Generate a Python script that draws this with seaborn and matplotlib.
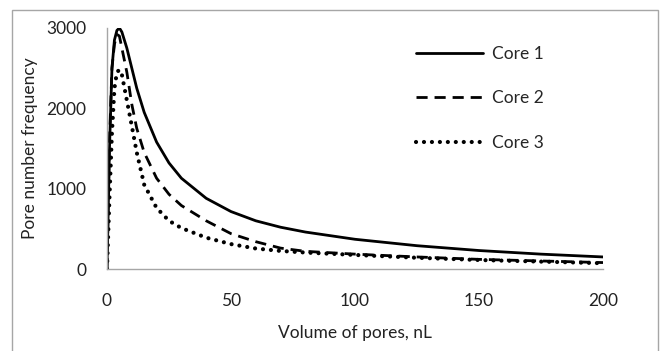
import matplotlib
matplotlib.use("Agg")
import matplotlib.pyplot as plt
import seaborn as sns
import pandas as pd
from matplotlib.patches import Rectangle

volume = [0, 1, 2, 3, 4, 5, 6, 8, 10, 12, 15, 20, 25, 30, 40, 50, 60, 70, 80, 100, 125, 150, 175, 200]
core1 = [0, 1500, 2500, 2850, 2970, 3000, 2950, 2750, 2500, 2250, 1950, 1580, 1320, 1130, 880, 715, 600, 520, 460, 370, 290, 230, 185, 150]
core2 = [0, 1600, 2500, 2800, 2920, 2900, 2750, 2450, 2050, 1750, 1450, 1130, 930, 790, 600, 440, 340, 260, 220, 185, 150, 120, 100, 80]
core3 = [0, 900, 1700, 2250, 2450, 2480, 2420, 2100, 1780, 1450, 1050, 760, 600, 510, 390, 310, 255, 225, 205, 175, 140, 112, 92, 72]
series_names = ["Core 1", "Core 2", "Core 3"]
x_ticks = [0, 50, 100, 150, 200]
y_ticks = [0, 1000, 2000, 3000]

rows = []
for name, vals in zip(series_names, [core1, core2, core3]):
    for v, f in zip(volume, vals):
        rows.append({"Volume": v, "Freq": f, "Core": name})
df = pd.DataFrame(rows)

sns.set_theme(style="white")
plt.rcParams['font.family'] = ['Lato', 'DejaVu Sans']

FS = 12.5
fig = plt.figure(figsize=(6.65, 3.51), dpi=100)
ax = fig.add_axes([107/665, 1-269/351, (603-107)/665, (269-28)/351])

sns.lineplot(data=df, x="Volume", y="Freq", style="Core", color="black",
             dashes={"Core 1": "", "Core 2": (4, 2.5), "Core 3": (0.01, 1.9)},
             linewidth=2.0, ax=ax, legend=True)
lines = ax.lines
lines[2].set_linewidth(3.0)
lines[2].set_dash_capstyle('round')

ax.set_xlim(0, 200)
ax.set_ylim(0, 3000)
ax.set_xticks(x_ticks)
ax.set_yticks(y_ticks)
ax.tick_params(axis='both', length=0, labelsize=FS, colors='#222222')
ax.tick_params(axis='x', pad=17)
ax.tick_params(axis='y', pad=15)
for s in ['top', 'right']:
    ax.spines[s].set_visible(False)
for s in ['left', 'bottom']:
    ax.spines[s].set_color('#a6a6a6')
    ax.spines[s].set_linewidth(1.0)
ax.set_xlabel("Volume of pores, nL", fontsize=FS, color='#222222', labelpad=12)
ax.set_ylabel("Pore number frequency", fontsize=FS, color='#222222', labelpad=6)

handles, labels = ax.get_legend_handles_labels()
for h in handles:
    h.set_color('black')
    h.set_linewidth(2.0)
handles[2].set_linewidth(3.0)
handles[2].set_dash_capstyle('round')
ax.legend(handles, labels, loc='upper left', bbox_to_anchor=(400/665, 1-30/351),
          bbox_transform=fig.transFigure, frameon=False, fontsize=FS,
          handlelength=3.9, labelspacing=1.65, handletextpad=0.5)

fig.patches.append(Rectangle((12/665, -0.05), (658-12)/665, 1.05-10/351,
                             transform=fig.transFigure, fill=False,
                             edgecolor='#a6a6a6', linewidth=1.0))

fig.savefig("out.png", dpi=100)
